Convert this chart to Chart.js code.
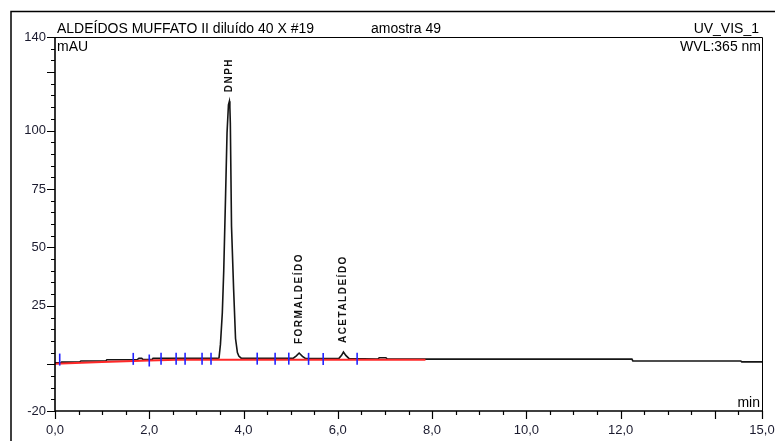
<!DOCTYPE html>
<html>
<head>
<meta charset="utf-8">
<script src="https://cdn.jsdelivr.net/npm/chart.js@4"></script>
<style>
  html, body { margin: 0; padding: 0; background: #fff; }
  canvas { display: block; }
</style>
</head>
<body>
<canvas id="chromatogram" width="775" height="441"></canvas>
<script>
// --- DATI: cromatogramma UV_VIS_1, amostra 49 ---
const traceTime = [0.00, 0.12, 0.14, 0.52, 0.55, 1.08, 1.10, 1.74, 1.78, 1.84, 1.87, 2.06, 2.08, 3.44,
  3.48, 3.51, 3.55, 3.58, 3.62, 3.65, 3.68, 3.70, 3.71, 3.72, 3.745, 3.79, 3.83, 3.87, 3.90, 3.95,
  5.05, 5.12, 5.18, 5.25, 5.32, 6.02, 6.08, 6.12, 6.17, 6.24, 6.85, 6.88, 7.02, 7.05,
  12.24, 12.26, 14.55, 14.57, 15.00];
const traceMAU = [0.6, 0.6, 0.9, 0.9, 1.4, 1.4, 1.9, 1.9, 2.5, 2.5, 2.0, 2.0, 2.5, 2.5,
  2.7, 8.5, 22, 40, 73, 99, 111, 112.5, 110, 103, 59, 32, 11, 5, 3.5, 2.6,
  2.5, 3.6, 4.8, 3.4, 2.4, 2.4, 3.8, 5.2, 3.8, 2.4, 2.2, 2.8, 2.8, 2.2,
  2.2, 1.4, 1.4, 1.0, 1.0];

// linha de base da integração (vermelho)
const baselineTime = [0.0, 1.0, 2.0, 2.6, 7.86];
const baselineMAU = [0.2, 1.0, 1.6, 1.9, 1.9];

// delimitadores de pico (azul)
const markerTime = [0.10, 1.66, 2.00, 2.25, 2.57, 2.76, 3.12, 3.31, 4.29, 4.67, 4.96, 5.38, 5.69, 6.41];
const markerMAU = [2.0, 2.3, 1.6, 2.4, 2.4, 2.4, 2.4, 2.4, 2.4, 2.4, 2.4, 2.3, 2.2, 2.4];

const peakNames = ['DNPH', 'FORMALDEÍDO', 'ACETALDEÍDO'];
const peakTime = [3.70, 5.18, 6.12];
const peakMAU = [112.5, 4.8, 5.2];

const xTickLabels = [0, 2, 4, 6, 8, 10, 12, 15];
const xMajorTicks = [0, 2, 4, 6, 8, 10, 12, 14, 15];
const yTickLabels = [-20, 25, 50, 75, 100, 140];
const yMajorTicks = [-20, 0, 25, 50, 75, 100, 125, 140];

const FONT = '"Liberation Sans", Arial, sans-serif';

const toPoints = (xs, ys) => xs.map((t, i) => ({ x: t, y: ys[i] }));

// --- cornice, assi e testi ---
const chromFrame = {
  id: 'chromFrame',
  afterDatasetsDraw(chart) {
    const { ctx, scales: { x, y } } = chart;
    ctx.save();

    // nomi dei picchi, ruotati sopra l'apice
    ctx.fillStyle = '#111';
    ctx.font = 'bold 10px ' + FONT;
    ctx.letterSpacing = '1.5px';
    ctx.textAlign = 'left';
    ctx.textBaseline = 'middle';
    peakNames.forEach((name, i) => {
      const px = x.getPixelForValue(peakTime[i]);
      const py = y.getPixelForValue(peakMAU[i]);
      ctx.save();
      ctx.translate(px, py - 9);
      ctx.rotate(-Math.PI / 2);
      ctx.fillText(name, 0, 0);
      ctx.restore();
    });
    ctx.letterSpacing = '0px';
    ctx.restore();
  },
  afterDraw(chart) {
    const { ctx, chartArea: a, scales: { x, y } } = chart;
    ctx.save();
    ctx.strokeStyle = '#000';

    // bordo esterno
    ctx.lineWidth = 1.5;
    ctx.beginPath();
    ctx.moveTo(11, 441);
    ctx.lineTo(11, 11.5);
    ctx.lineTo(775, 11.5);
    ctx.stroke();

    // riquadro del grafico
    ctx.lineWidth = 1;
    ctx.beginPath();
    ctx.moveTo(a.left, a.top + 0.5);
    ctx.lineTo(a.right + 0.5, a.top + 0.5);
    ctx.lineTo(a.right + 0.5, a.bottom);
    ctx.stroke();
    ctx.lineWidth = 1.6;
    ctx.beginPath();
    ctx.moveTo(a.left, a.top);
    ctx.lineTo(a.left, a.bottom);
    ctx.lineTo(a.right + 1, a.bottom);
    ctx.stroke();

    // tacche asse X
    ctx.lineWidth = 1.2;
    ctx.beginPath();
    for (let t = 0; t <= 15; t += 0.5) {
      const px = Math.round(x.getPixelForValue(t)) + 0.5;
      const len = xMajorTicks.includes(t) ? 8 : 4;
      ctx.moveTo(px, a.bottom);
      ctx.lineTo(px, a.bottom + len);
    }
    // tacche asse Y
    for (let v = -20; v <= 140; v += 5) {
      const py = Math.round(y.getPixelForValue(v)) + 0.5;
      const len = yMajorTicks.includes(v) ? 8 : 4;
      ctx.moveTo(a.left, py);
      ctx.lineTo(a.left - len, py);
    }
    ctx.stroke();

    ctx.fillStyle = '#1a1a2e';
    ctx.font = '13px ' + FONT;
    ctx.textBaseline = 'middle';
    ctx.textAlign = 'center';
    xTickLabels.forEach(t => {
      ctx.fillText(t.toFixed(1).replace('.', ','), x.getPixelForValue(t), a.bottom + 19);
    });
    ctx.textAlign = 'right';
    yTickLabels.forEach(v => {
      ctx.fillText(String(v), a.left - 9, y.getPixelForValue(v));
    });

    // intestazioni
    ctx.fillStyle = '#000';
    ctx.font = '14px ' + FONT;
    ctx.textBaseline = 'alphabetic';
    ctx.textAlign = 'left';
    ctx.fillText('ALDEÍDOS MUFFATO II diluído 40 X #19', 57, 33);
    ctx.fillText('amostra 49', 371, 33);
    ctx.fillText('mAU', 57, 51);
    ctx.textAlign = 'right';
    ctx.fillText('UV_VIS_1', 759, 33);
    ctx.fillText('WVL:365 nm', 761, 51);
    ctx.fillText('min', 760, 407);
    ctx.restore();
  }
};

new Chart(document.getElementById('chromatogram'), {
  type: 'line',
  data: {
    datasets: [
      {
        data: toPoints(traceTime, traceMAU),
        borderColor: '#151515',
        borderWidth: 1.6,
        pointRadius: 0,
        tension: 0,
        order: 3
      },
      {
        data: toPoints(baselineTime, baselineMAU),
        borderColor: 'rgb(255, 40, 40)',
        borderWidth: 2,
        pointRadius: 0,
        tension: 0,
        order: 2
      },
      {
        type: 'scatter',
        data: toPoints(markerTime, markerMAU),
        showLine: false,
        pointStyle: 'line',
        rotation: 90,
        pointRadius: 6,
        pointBorderColor: 'rgb(35, 35, 255)',
        pointBorderWidth: 1.6,
        order: 1
      }
    ]
  },
  options: {
    responsive: false,
    animation: false,
    layout: { padding: { left: 55, top: 37, right: 13, bottom: 30 } },
    plugins: { legend: { display: false }, tooltip: { enabled: false } },
    scales: {
      x: { type: 'linear', min: 0, max: 15, display: false },
      y: { type: 'linear', min: -20, max: 140, display: false }
    }
  },
  plugins: [chromFrame]
});
</script>
</body>
</html>
